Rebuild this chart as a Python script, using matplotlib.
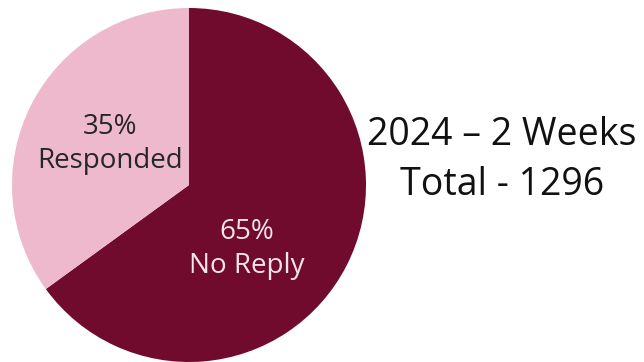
import matplotlib.pyplot as plt

# response breakdown, share of total in percent
categories = ["No Reply", "Responded"]
shares = [65, 35]
period_label = "2024 \u2013 2 Weeks"
total_label = "Total - 1296"

slice_colors = ["#700B2D", "#EEB9CD"]
label_colors = ["#F6E4EA", "#262626"]

plt.rcParams["font.family"] = ["Open Sans", "DejaVu Sans"]

fig = plt.figure(figsize=(6.44, 3.62), dpi=100)
ax = fig.add_axes([0, 0, 1, 1])

wedges, _ = ax.pie(
    shares,
    colors=slice_colors,
    startangle=90,
    counterclock=False,
    center=(189, 177),
    radius=177,
    frame=True,
    wedgeprops={"linewidth": 0},
)
ax.set_xlim(0, 644)
ax.set_ylim(0, 362)
ax.set_aspect("equal")
ax.axis("off")

# slice labels: percentage over category name
label_pos = [(247, 113), (110, 218)]
for cat, share, (x, y), col in zip(categories, shares, label_pos, label_colors):
    ax.text(x, y, f"{share}%\n{cat}", ha="center", va="center",
            fontsize=20, color=col, linespacing=1.25)

ax.text(502, 202, f"{period_label}\n{total_label}", ha="center", va="center",
        fontsize=27, color="#111111", linespacing=1.38)

fig.savefig("out.png", dpi=100)
